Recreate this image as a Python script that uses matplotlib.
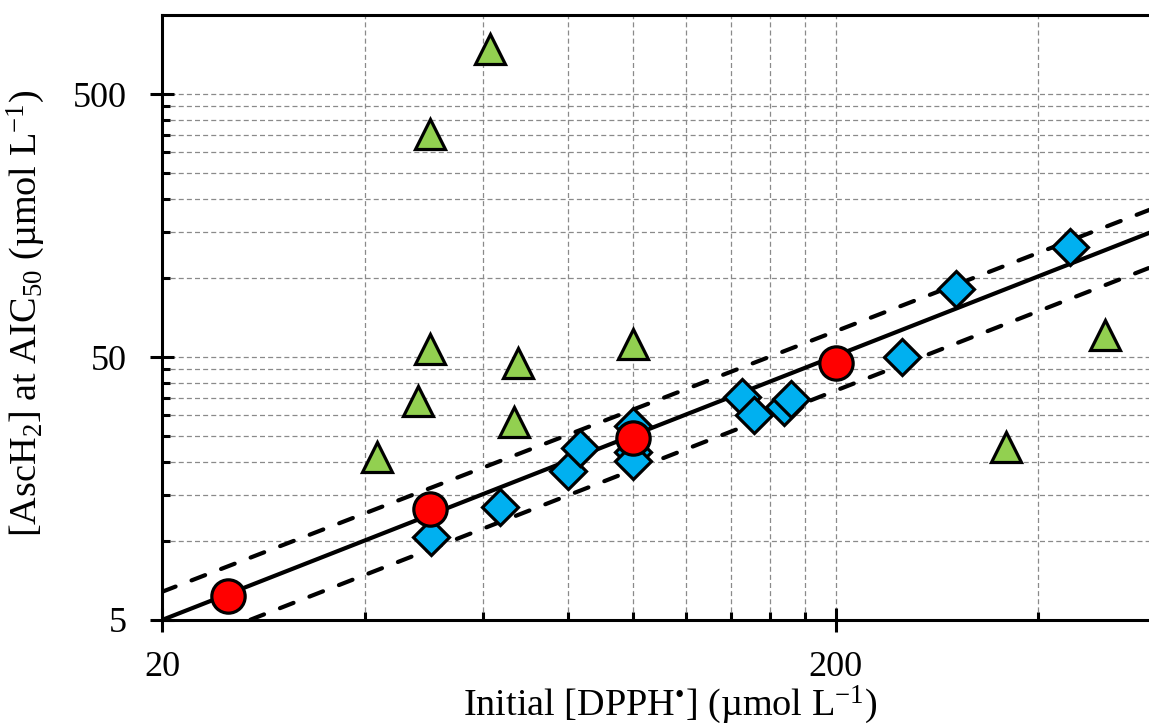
"""
AscH2 at AIC50 versus initial DPPH concentration (log-log)
"""

import numpy as np
import matplotlib
import matplotlib.pyplot as plt
from matplotlib.ticker import FixedLocator, NullFormatter, FixedFormatter

matplotlib.use('Agg')

plt.rcParams['font.family'] = ['Liberation Serif', 'DejaVu Serif']
plt.rcParams['mathtext.fontset'] = 'custom'
plt.rcParams['mathtext.rm'] = 'Liberation Serif'
plt.rcParams['mathtext.it'] = 'Liberation Serif:italic'
plt.rcParams['mathtext.bf'] = 'Liberation Serif:bold'

# green triangles
dpph_green = [61.4, 50.0, 41.7, 48.0, 50.0, 67.6, 66.6, 100, 502.6, 358.4]
asch_green = [741, 352, 20.8, 34.1, 53.6, 47.5, 28.4, 56.0, 60.6, 22.8]

# blue diamonds
dpph_blue = [50.1, 63.5, 80.2, 83.4, 100, 100, 100, 145.2, 151.3, 167.5, 172.0, 251.2, 302.0, 446.4]
asch_blue = [10.3, 13.5, 18.5, 22.6, 27.3, 21.8, 20.1, 35.1, 30.1, 32.4, 34.5, 49.9, 90.7, 131.4]

# red circles
dpph_red = [25.1, 50.0, 100, 200]
asch_red = [6.17, 13.2, 24.6, 47.5]

# power-law fit y = a * x^b : fit, upper band, lower band
fit_coef = [0.2465, 0.3287, 0.1834]
fit_exp = [1.0047, 0.991, 1.003]

x_ticks = [20, 200]
y_ticks = [5, 50, 500]

fig = plt.figure(figsize=(11.49, 7.26), dpi=100)
ax = fig.add_axes([0.14099, 0.14601, 0.86597, 0.83333])
ax.set_xscale('log')
ax.set_yscale('log')
ax.set_xlim(20, 600)
ax.set_ylim(5, 1000)

# fit lines
xs = np.array([20.0, 600.0])
ax.plot(xs, fit_coef[0] * xs ** fit_exp[0], color='black', lw=3.0, zorder=2,
        solid_capstyle='butt')
for a, b in zip(fit_coef[1:], fit_exp[1:]):
    ax.plot(xs, a * xs ** b, color='black', lw=3.0, zorder=2,
            dashes=(3.5, 4.1), dash_capstyle='round')

# markers
ax.plot(dpph_green, asch_green, ls='none', marker='^', ms=22, mfc='#92d050',
        mec='black', mew=2.3, zorder=3, clip_on=False)
ax.plot(dpph_blue, asch_blue, ls='none', marker='D', ms=18, mfc='#00b0f0',
        mec='black', mew=2.3, zorder=4, clip_on=False)
ax.plot(dpph_red, asch_red, ls='none', marker='o', ms=24, mfc='#ff0000',
        mec='black', mew=2.3, zorder=5, clip_on=False)

# ticks
x_minor = list(np.arange(40, 200, 20)) + [400]
y_minor = list(np.arange(10, 50, 5)) + list(np.arange(100, 500, 50))
ax.xaxis.set_major_locator(FixedLocator(x_ticks))
ax.xaxis.set_major_formatter(FixedFormatter([str(v) for v in x_ticks]))
ax.xaxis.set_minor_locator(FixedLocator(x_minor))
ax.xaxis.set_minor_formatter(NullFormatter())
ax.yaxis.set_major_locator(FixedLocator(y_ticks))
ax.yaxis.set_major_formatter(FixedFormatter([str(v) for v in y_ticks]))
ax.yaxis.set_minor_locator(FixedLocator(y_minor))
ax.yaxis.set_minor_formatter(NullFormatter())

ax.tick_params(which='major', direction='inout', length=17, width=2.2,
               labelsize=26, color='black')
ax.tick_params(axis='x', which='major', pad=14)
ax.tick_params(axis='y', which='major', pad=16.5)
ax.tick_params(which='minor', direction='in', length=5.8, width=2.2, color='black')

ax.grid(which='both', color='#8a8a8a', lw=0.9, ls=(0, (4, 2.5)), zorder=0)
ax.set_axisbelow(True)

for side in ['left', 'bottom', 'top']:
    ax.spines[side].set_linewidth(2.2)
    ax.spines[side].set_color('black')
ax.spines['right'].set_visible(False)

ax.set_xlabel('Initial [DPPH$^{•}$] (µmol L$^{-1}$)', fontsize=27.5)
ax.set_ylabel('[AscH$_2$] at AIC$_{50}$ (µmol L$^{-1}$)', fontsize=27.5)
ax.xaxis.set_label_coords(0.5106, -0.106)
ax.yaxis.set_label_coords(-0.116, 0.506)

fig.savefig('out.png', dpi=100, facecolor='white')
plt.close(fig)
